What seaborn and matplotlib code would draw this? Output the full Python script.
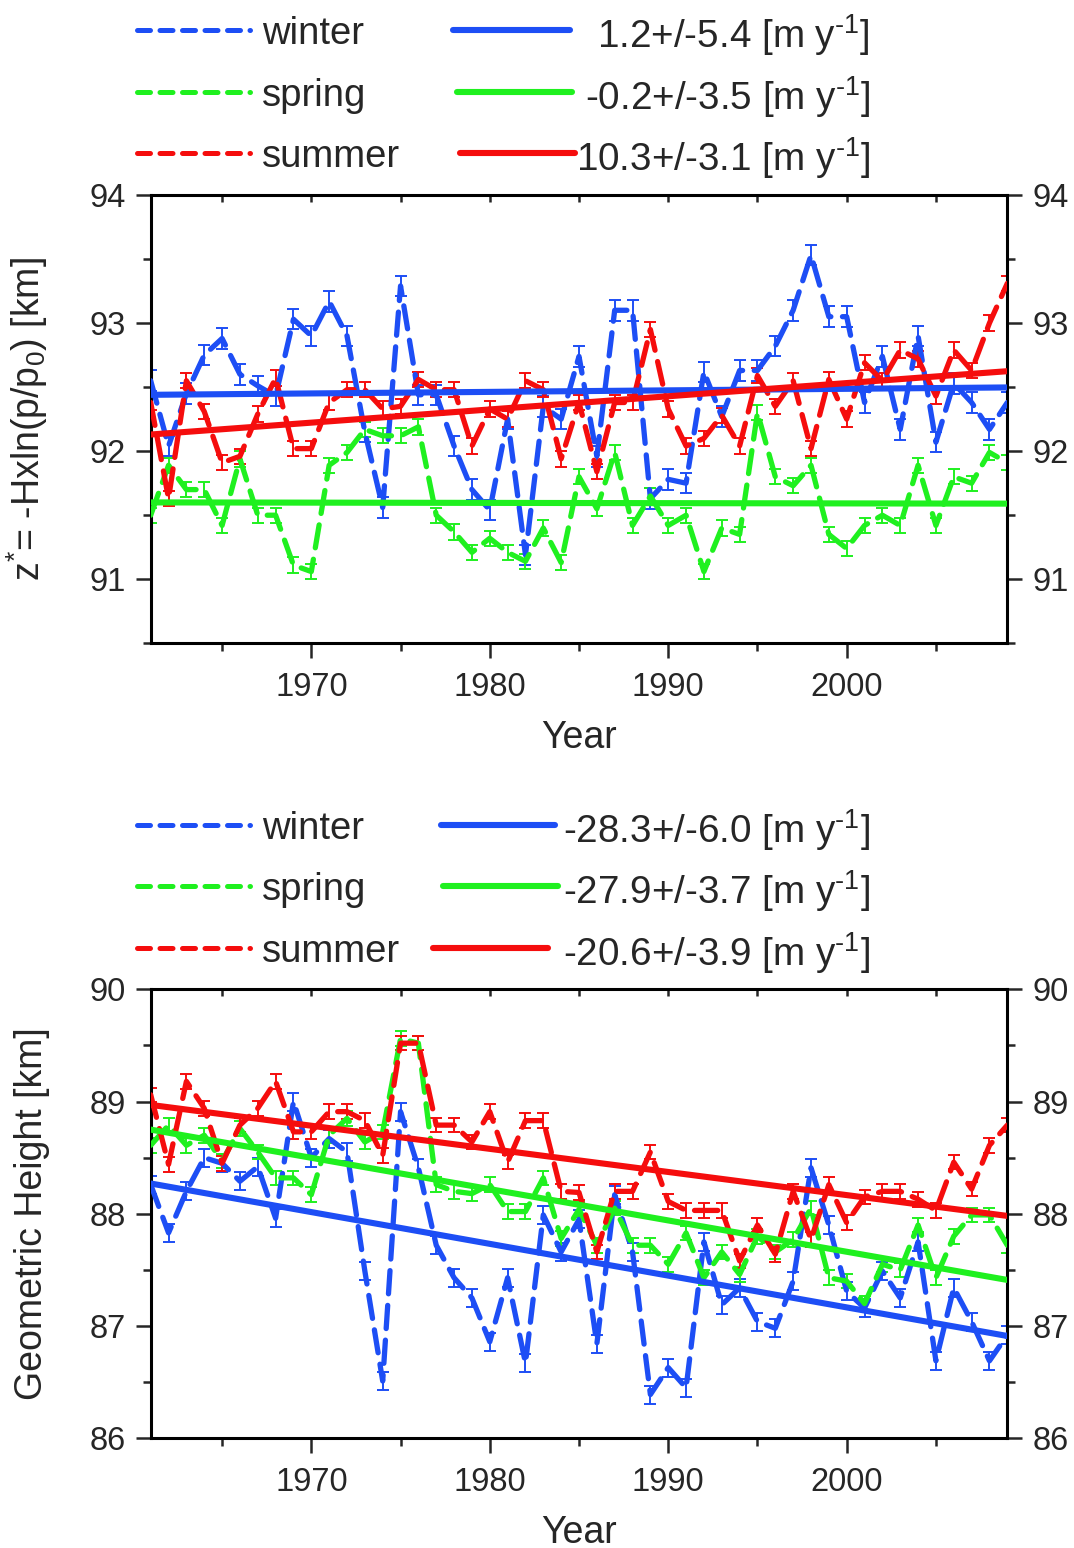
import numpy as np
import matplotlib
matplotlib.use("Agg")
import matplotlib.pyplot as plt
from matplotlib.lines import Line2D
from matplotlib.ticker import MultipleLocator
import seaborn as sns

years = list(range(1961, 2010))
seasons = ["winter", "spring", "summer"]
colors = ["#1d4ef5", "#1ff01f", "#f50d0d"]

# top panel: z* = -H ln(p/p0) [km]
top_winter = [92.55, 92.04, 92.45, 92.75, 92.88, 92.60, 92.51, 92.43, 93.03, 92.90,
              93.17, 92.90, 92.15, 91.56, 93.29, 92.44, 92.44, 92.04, 91.70, 91.54,
              92.25, 91.19, 92.35, 92.25, 92.74, 91.96, 93.10, 93.10, 91.63, 91.78,
              91.75, 92.62, 92.27, 92.63, 92.63, 92.82, 93.10, 93.53, 93.05, 93.05,
              92.38, 92.74, 92.17, 92.90, 92.07, 92.53, 92.38, 92.17, 92.38]
top_spring = [91.50, 91.89, 91.70, 91.70, 91.42, 91.94, 91.50, 91.50, 91.11, 91.06,
              91.89, 91.99, 92.17, 92.12, 92.12, 92.19, 91.50, 91.37, 91.21, 91.32,
              91.21, 91.14, 91.40, 91.13, 91.80, 91.55, 91.99, 91.42, 91.65, 91.42,
              91.50, 91.06, 91.40, 91.35, 92.30, 91.80, 91.73, 91.89, 91.35, 91.24,
              91.42, 91.50, 91.42, 91.89, 91.42, 91.80, 91.75, 91.99, 91.91]
top_summer = [92.38, 91.63, 92.55, 92.31, 91.91, 91.96, 92.29, 92.57, 92.02, 92.02,
              92.38, 92.48, 92.48, 92.33, 92.35, 92.56, 92.48, 92.48, 92.04, 92.33,
              92.25, 92.55, 92.48, 91.94, 92.38, 91.84, 92.38, 92.38, 92.95, 92.33,
              92.04, 92.10, 92.28, 92.04, 92.59, 92.35, 92.55, 92.02, 92.56, 92.25,
              92.69, 92.55, 92.79, 92.72, 92.43, 92.79, 92.63, 93.00, 93.31]
top_err = [0.08, 0.06, 0.06]
top_slope = [1.2, -0.2, 10.3]          # m/yr
top_slope_err = [5.4, 3.5, 3.1]
top_start = [92.44, 91.60, 92.13]      # trend value at 1961

# bottom panel: geometric height [km]
bot_winter = [88.26, 87.83, 88.20, 88.50, 88.45, 88.29, 88.42, 87.96, 89.00, 88.50,
              88.67, 88.55, 87.49, 86.51, 88.91, 88.41, 87.72, 87.43, 87.25, 86.86,
              87.43, 86.67, 87.99, 87.66, 87.95, 86.84, 88.17, 87.66, 86.39, 86.63,
              86.45, 87.75, 87.19, 87.34, 87.04, 86.98, 87.40, 88.41, 87.90, 87.31,
              87.16, 87.49, 87.25, 87.75, 86.69, 87.34, 87.04, 86.69, 86.92]
bot_spring = [88.61, 88.79, 88.61, 88.70, 88.47, 88.76, 88.55, 88.32, 88.32, 88.17,
              88.70, 88.85, 88.64, 88.73, 89.56, 89.52, 88.26, 88.20, 88.18, 88.26,
              88.02, 88.02, 88.32, 87.78, 88.04, 87.72, 88.05, 87.72, 87.72, 87.55,
              87.83, 87.43, 87.66, 87.46, 87.80, 87.66, 87.77, 88.05, 87.43, 87.40,
              87.20, 87.55, 87.50, 87.90, 87.43, 87.80, 87.99, 87.99, 87.72]
bot_summer = [89.06, 88.44, 89.18, 88.94, 88.45, 88.79, 88.94, 89.18, 88.73, 88.73,
              88.91, 88.91, 88.83, 88.52, 89.52, 89.52, 88.79, 88.79, 88.64, 88.91,
              88.46, 88.83, 88.83, 88.20, 88.19, 87.66, 88.20, 88.20, 88.55, 88.11,
              88.03, 88.03, 88.03, 87.58, 87.90, 87.64, 88.20, 87.77, 88.26, 87.92,
              88.15, 88.20, 88.20, 88.13, 88.03, 88.46, 88.22, 88.61, 88.79]
bot_err = [0.08, 0.065, 0.065]
bot_slope = [-28.3, -27.9, -20.6]
bot_slope_err = [6.0, 3.7, 3.9]
bot_start = [88.27, 88.75, 88.97]

sns.set_style("ticks")
plt.rcParams["font.family"] = ["Liberation Sans", "DejaVu Sans"]
plt.rcParams["mathtext.fontset"] = "custom"
plt.rcParams["mathtext.rm"] = "Liberation Sans"
plt.rcParams["mathtext.it"] = "Liberation Sans"
plt.rcParams["mathtext.default"] = "regular"

W, H = 1074, 1548
fig = plt.figure(figsize=(W / 100, H / 100), dpi=100)

def fx(px):
    return px / W

def fy(py):
    return 1 - py / H

ax_top = fig.add_axes([fx(150.7), fy(643.3), fx(1007.3 - 150.7), (643.3 - 195) / H])
ax_bot = fig.add_axes([fx(150.7), fy(1438.3), fx(1007.3 - 150.7), (1438.3 - 989.3) / H])

yrs = np.array(years)


def draw_panel(ax, series, errs, slopes, starts, ylim, ylabel):
    for vals, e, c in zip(series, errs, colors):
        ax.errorbar(yrs, vals, yerr=e, fmt="none", ecolor=c, elinewidth=1.4,
                    capsize=4.5, capthick=1.4, zorder=2)
        sns.lineplot(x=yrs, y=vals, ax=ax, color=c, lw=3.8,
                     linestyle=(0, (4.4, 2.2)), dash_capstyle="round", zorder=3)
    for s, b, c in zip(slopes, starts, colors):
        trend = b + np.array(s) / 1000.0 * (yrs - years[0])
        sns.lineplot(x=yrs, y=trend, ax=ax, color=c, lw=4.4, zorder=4)
    ax.set_xlim(years[0], years[-1])
    ax.set_ylim(*ylim)
    ax.xaxis.set_major_locator(MultipleLocator(10))
    ax.xaxis.set_minor_locator(MultipleLocator(5))
    ax.yaxis.set_major_locator(MultipleLocator(1))
    ax.yaxis.set_minor_locator(MultipleLocator(0.5))
    ax.tick_params(axis="both", which="major", labelsize=23.5, width=1.8,
                   length=11, direction="out", pad=7, right=True, labelright=True)
    ax.tick_params(axis="both", which="minor", width=1.8, length=5.5,
                   direction="out", right=True)
    ax.tick_params(axis="x", which="both", top=True)
    ax.tick_params(axis="x", which="major", pad=10)
    for sp in ax.spines.values():
        sp.set_linewidth(2.2)
        sp.set_color("black")
    ax.set_xlabel("Year", fontsize=27)
    ax.xaxis.set_label_coords(0.5, -0.17)
    ax.set_ylabel(ylabel, fontsize=27)
    ax.yaxis.set_label_coords(-0.118, 0.5)
    ax.grid(False)


draw_panel(ax_top, [top_winter, top_spring, top_summer], top_err, top_slope,
           top_start, (90.5, 94), r"z$^{*}$= -Hxln(p/p$_{0}$) [km]")
draw_panel(ax_bot, [bot_winter, bot_spring, bot_summer], bot_err, bot_slope,
           bot_start, (86, 90), "Geometric Height [km]")

# top-axis ticks point inwards, short
for ax in (ax_top, ax_bot):
    for t in ax.xaxis.get_major_ticks() + ax.xaxis.get_minor_ticks():
        t.tick2line.set_marker(3)
        t.tick2line.set_markersize(5)


def draw_legend(rows_y, right_x0, right_x1, slopes, slope_errs):
    for i, (name, c) in enumerate(zip(seasons, colors)):
        y = fy(rows_y[i])
        fig.add_artist(Line2D([fx(137), fx(250)], [y, y], color=c, lw=3.6,
                              linestyle=(0, (2.6, 1.9)), dash_capstyle="round",
                              transform=fig.transFigure))
        fig.text(fx(262), y, name, fontsize=27.5, va="center_baseline", ha="left")
        fig.add_artist(Line2D([fx(right_x0[i]), fx(right_x1[i])], [y, y], color=c,
                              lw=4.4, transform=fig.transFigure))
        label = r"%.1f+/-%.1f [m y$^{\text{-1}}$]" % (slopes[i], slope_errs[i])
        fig.text(fx(870), y, label, fontsize=27.8, va="center_baseline", ha="right")


draw_legend([30, 92, 153], [453, 457, 460], [570, 572, 575], top_slope, top_slope_err)
draw_legend([825, 886, 948], [441, 443, 433], [555, 558, 548], bot_slope, bot_slope_err)

fig.savefig("out.png", dpi=100)
